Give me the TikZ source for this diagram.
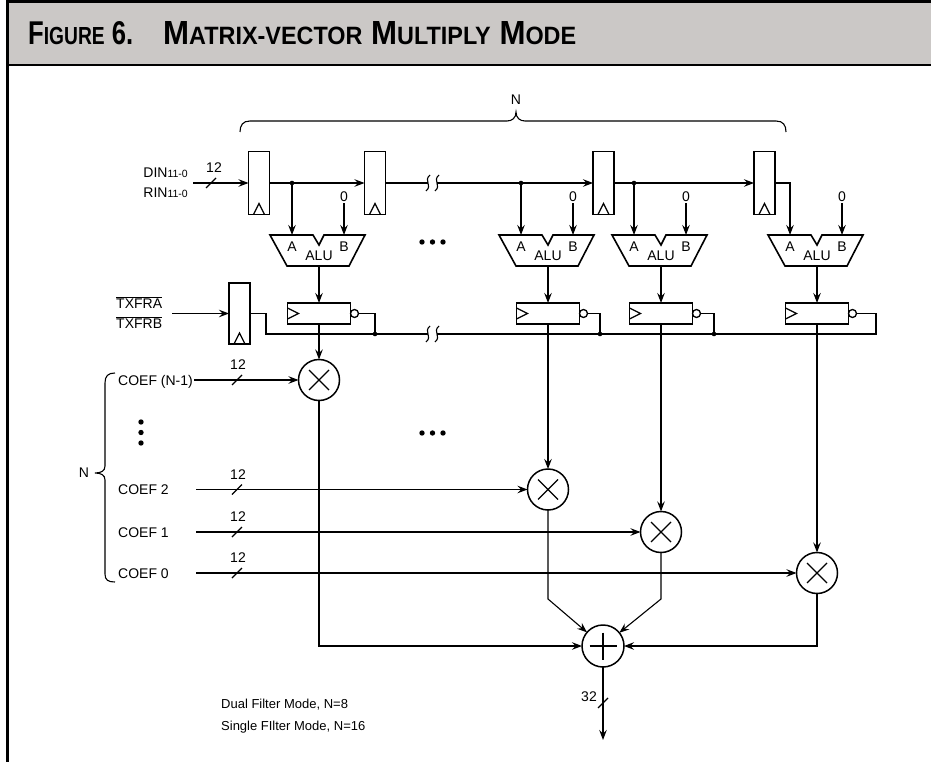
\documentclass[tikz,border=0pt]{standalone}
\usepackage{fontspec}
\setmainfont{Liberation Sans}
\usepackage{graphicx}
\usetikzlibrary{arrows.meta,calc}
\definecolor{bandgray}{RGB}{203,200,198}
\newcommand{\tsmall}[1]{{\fontsize{24}{24}\selectfont #1}}
\begin{document}
\begin{tikzpicture}[x=1pt,y=-1pt,
  font=\fontsize{14}{16}\selectfont,
  wire/.style={line width=1.1pt},
  arr/.style={wire,-{Stealth[length=10pt,width=7.5pt,inset=3.5pt]}},
  treg/.style={draw,line width=1.8pt,minimum width=21pt,minimum height=63pt,inner sep=0pt,outer sep=0pt},
  wreg/.style={draw,line width=1.8pt,minimum width=63pt,minimum height=21pt,inner sep=0pt,outer sep=0pt},
  bub/.style={circle,draw,line width=1.3pt,minimum size=8pt,inner sep=0pt,outer sep=0pt},
  mult/.style={circle,draw,line width=1.5pt,minimum size=41pt,inner sep=0pt,outer sep=0pt,
    path picture={\draw[line width=1.1pt]
      ([shift={(-10,-10)}]path picture bounding box.center) -- ([shift={(10,10)}]path picture bounding box.center)
      ([shift={(-10,10)}]path picture bounding box.center) -- ([shift={(10,-10)}]path picture bounding box.center);}},
  adder/.style={circle,draw,line width=1.5pt,minimum size=42pt,inner sep=0pt,outer sep=0pt,
    path picture={\draw[line width=1.1pt]
      ([shift={(-13.5,0)}]path picture bounding box.center) -- ([shift={(13.5,0)}]path picture bounding box.center)
      ([shift={(0,-13.5)}]path picture bounding box.center) -- ([shift={(0,13.5)}]path picture bounding box.center);}},
  lbl/.style={inner sep=0pt},
  alu/.pic={
    \draw[line width=1.6pt,line join=miter] (-49,0) -- (-6,0) -- (0,10) -- (5,0) -- (46,0) -- (30,31) -- (-32,31) -- cycle;
    \coordinate (-A) at (-27,0);
    \coordinate (-B) at (25,0);
    \coordinate (-out) at (0,31);
    \node[lbl] at (-27,12) {A};
    \node[lbl] at (25,12) {B};
    \node[lbl] at (0,21) {ALU};
  }
]
\useasboundingbox (0,0) rectangle (931,762);
% frame and title band
\fill[bandgray] (7,0) rectangle (931,65);
\draw[line width=3pt] (7,762) -- (7,2) -- (931,2);
\draw[line width=2.5pt] (7,65) -- (931,65);
\node[anchor=base west,inner sep=0pt] (title1) at (28,45) {\resizebox{105pt}{23pt}{\fontsize{32}{32}\selectfont\bfseries F\tsmall{IGURE} 6.}};
\node[anchor=base west,inner sep=0pt] (title2) at (163,45) {\resizebox{413pt}{23pt}{\fontsize{32}{32}\selectfont\bfseries M\tsmall{ATRIX-VECTOR} M\tsmall{ULTIPLY} M\tsmall{ODE}}};

% top brace
\draw[wire] (240,132) .. controls (240,125) and (243,121) .. (250,121) -- (507,121)
  .. controls (512,121) and (516,118) .. (516,112)
  .. controls (516,118) and (520,121) .. (525,121) -- (776,121)
  .. controls (783,121) and (786,125) .. (786,132);
\node[lbl] (ntop) at (516,100) {N};

% row 1 registers
\node[treg] (r1) at (259,183) {};
\node[treg] (r2) at (375,183) {};
\node[treg] (r3) at (603.5,183) {};
\node[treg] (r4) at (764.5,183) {};
\node[treg,minimum height=61pt] (tx) at (239.5,313.5) {};
\foreach \r in {r1,r2,r3,r4,tx}
  \draw[line width=1.3pt,line join=miter] ([xshift=-5.5pt]\r.south) -- ++(5.5,-11) -- ++(5.5,11);

% ALUs
\pic (alu1) at (319,235) {alu};
\pic (alu2) at (548,235) {alu};
\pic (alu3) at (661,235) {alu};
\pic (alu4) at (817,235) {alu};

% input
\node[lbl,anchor=base east] (din) at (188,177.5) {DIN{\fontsize{10.5}{11}\selectfont 11-0}};
\node[lbl,anchor=base east] (rin) at (188,197.5) {RIN{\fontsize{10.5}{11}\selectfont 11-0}};
\coordinate (dinS) at (193,183);
\draw[arr] (dinS) -- (r1.west);
\draw[wire] (206,188) -- (216,178);
\node[lbl] (n12a) at (214,168) {12};

% data line
\coordinate (d1) at (alu1-A |- r1.east);
\coordinate (d2) at (alu2-A |- r1.east);
\coordinate (d3) at (alu3-A |- r1.east);
\coordinate (k1a) at (428,183);
\coordinate (k1b) at (437,183);
\draw[wire] (r1.east) -- (d1);
\draw[arr] (d1) -- (r2.west);
\draw[wire] (r2.east) -- (k1a);
\draw[wire] (k1b) -- (d2);
\draw[arr] (d2) -- (r3.west);
\draw[wire] (r3.east) -- (d3);
\draw[arr] (d3) -- (r4.west);
\draw[arr] (r4.east) -| (alu4-A);
\foreach \d in {d1,d2,d3} \fill (\d) circle (2.3);
\draw[arr] (d1) -- (alu1-A);
\draw[arr] (d2) -- (alu2-A);
\draw[arr] (d3) -- (alu3-A);

% zero inputs
\foreach \a in {alu1,alu2,alu3,alu4} {
  \node[inner sep=1pt] (\a-zero) at ([yshift=38pt]\a-B) {0};
  \draw[arr] (\a-zero) -- (\a-B);
}

% ellipsis dots
\foreach \x in {422,432.5,443} {
  \fill (\x,242) circle (2.7);
  \fill (\x,433) circle (2.7);
}
\foreach \y in {422,432.5,443} \fill (141,\y) circle (2.7);

% row 2 registers
\node[wreg] (w1) at (319,313.5) {};
\node[wreg] (w2) at (548,313.5) {};
\node[wreg] (w3) at (661,313.5) {};
\node[wreg] (w4) at (817,313.5) {};
\foreach \w in {w1,w2,w3,w4} {
  \draw[line width=1.3pt,line join=miter] ([shift={(0,-5.5)}]\w.west) -- ++(11,5.5) -- ++(-11,5.5);
  \node[bub,anchor=west] (\w b) at (\w.east) {};
}
\draw[arr] (alu1-out) -- (w1.north);
\draw[arr] (alu2-out) -- (w2.north);
\draw[arr] (alu3-out) -- (w3.north);
\draw[arr] (alu4-out) -- (w4.north);

% TXFR
\node[lbl,anchor=base west] (txa) at (116,308.5) {$\overline{\mbox{TXFRA}}$};
\node[lbl,anchor=base west] (txb) at (116,328.5) {$\overline{\mbox{TXFRB}}$};
\coordinate (txS) at (172,313.5);
\draw[arr] (txS) -- (tx.west);

% bus
\coordinate (bus0) at (266,334);
\coordinate (l1) at (375,334);
\coordinate (l2) at (600,334);
\coordinate (l3) at (714,334);
\coordinate (l4) at (876,334);
\coordinate (k2a) at (428,334);
\coordinate (k2b) at (437,334);
\draw[wire] (tx.east) -| (bus0) -- (k2a);
\draw[wire] (k2b) -- (l4) |- (w4b.east);
\draw[wire] (w1b.east) -| (l1);
\draw[wire] (w2b.east) -| (l2);
\draw[wire] (w3b.east) -| (l3);
\foreach \l in {l1,l2,l3} \fill (\l) circle (2.3);

% break marks
\foreach \p in {k1a,k1b,k2a,k2b}
  \draw[wire] ([shift={(2,-8)}]\p) .. controls ([shift={(-5,-2)}]\p) and ([shift={(5,2)}]\p) .. ([shift={(-2,8)}]\p);

% multipliers
\node[mult] (m1) at (319,380) {};
\node[mult] (m2) at (548,489.5) {};
\node[mult] (m3) at (661,532) {};
\node[mult] (m4) at (817,573) {};
\draw[arr] (w1.south) -- (m1.north);
\draw[arr] (w2.south) -- (m2.north);
\draw[arr] (w3.south) -- (m3.north);
\draw[arr] (w4.south) -- (m4.north);

% coefficient inputs
\node[lbl,anchor=base west] (cn) at (118,385) {COEF (N-1)};
\node[lbl,anchor=base west] (c2) at (118,494.5) {COEF 2};
\node[lbl,anchor=base west] (c1) at (118,537) {COEF 1};
\node[lbl,anchor=base west] (c0) at (118,578) {COEF 0};
\coordinate (cnS) at (194,380);
\coordinate (c2S) at (196,489.5);
\coordinate (c1S) at (196,532);
\coordinate (c0S) at (196,573);
\draw[arr] (cnS) -- (m1.west);
\draw[arr] (c2S) -- (m2.west);
\draw[arr] (c1S) -- (m3.west);
\draw[arr] (c0S) -- (m4.west);
\foreach \y in {380,489.5,532,573} {
  \draw[wire] (232,\y+5) -- (242,\y-5);
  \node[lbl] at (238,\y-15) {12};
}

% left brace
\draw[wire] (115,373) .. controls (108,373) and (105,376) .. (105,383) -- (105,466)
  .. controls (105,471) and (101,473) .. (95,473)
  .. controls (101,473) and (105,475) .. (105,480) -- (105,574)
  .. controls (105,580) and (108,582) .. (115,582);
\node[lbl] (nleft) at (84,473) {N};

% adder
\node[adder] (add) at (603,646) {};
\coordinate (j2) at (548,599);
\coordinate (j3) at (661,599);
\draw[arr] (m2.south) -- (j2) -- (add);
\draw[arr] (m3.south) -- (j3) -- (add);
\draw[arr] (m1.south) |- (add.west);
\draw[arr] (m4.south) |- (add.east);
\coordinate (out) at (603,740);
\draw[arr] (add.south) -- (out);
\draw[wire] (598,708) -- (608,698);
\node[lbl,anchor=east] (n32) at (597,697) {32};

% notes
\node[lbl,anchor=base west,font=\fontsize{13}{15}\selectfont] (note1) at (221,708.5) {Dual Filter Mode, N=8};
\node[lbl,anchor=base west,font=\fontsize{13}{15}\selectfont] (note2) at (221,730.5) {Single FIlter Mode, N=16};
\end{tikzpicture}
\end{document}
